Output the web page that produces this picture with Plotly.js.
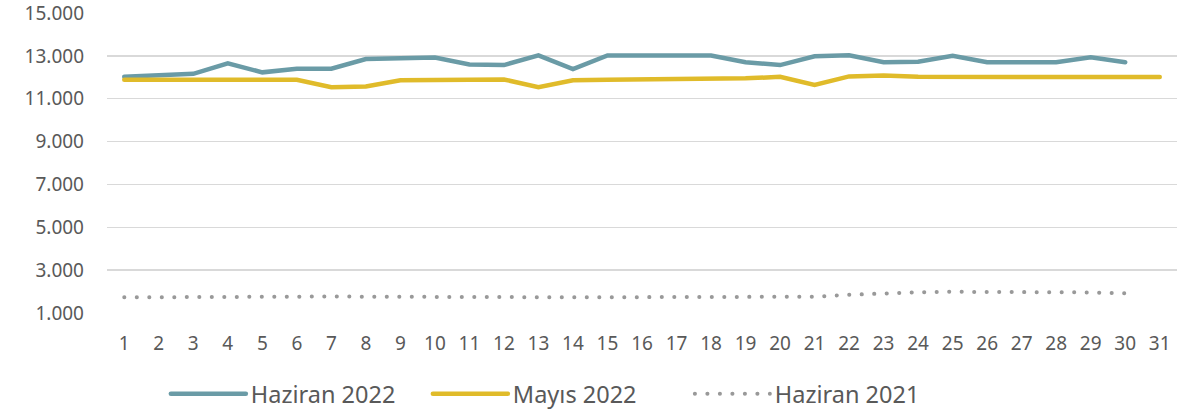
<!DOCTYPE html>
<html>
<head>
<meta charset="utf-8">
<script src="https://cdn.plot.ly/plotly-3.0.1.min.js"></script>
<style>
html,body{margin:0;padding:0;background:#fff;}
#chart{width:1187px;height:414px;}
#chart path.js-line, #chart .legendlines path{stroke-linecap:round !important;}
</style>
</head>
<body>
<div id="chart"></div>
<script>
var days = [1,2,3,4,5,6,7,8,9,10,11,12,13,14,15,16,17,18,19,20,21,22,23,24,25,26,27,28,29,30,31];
var haziran2022 = [12020,12100,12160,12650,12230,12400,12400,12850,12900,12920,12600,12570,13020,12380,13020,13020,13020,13020,12700,12570,12980,13030,12700,12730,13000,12700,12700,12700,12930,12700];
var mayis2022 = [11880,11880,11880,11880,11880,11880,11540,11570,11860,11860,11880,11900,11540,11860,11880,11900,11920,11910,11950,12020,11640,12040,12080,12020,12020,12010,11980,12010,12010,12010,12010];
var haziran2021 = [1730,1740,1750,1760,1780,1780,1770,1760,1750,1750,1750,1740,1730,1730,1730,1740,1740,1740,1740,1750,1760,1850,1920,1970,1990,1990,1990,1980,1960,1920];
var yTicks = [1000,3000,5000,7000,9000,11000,13000,15000];

var fontFam = '"Noto Sans", "DejaVu Sans", sans-serif';
var traces = [
  {x: days.slice(0, haziran2022.length), y: haziran2022, name: 'Haziran 2022', type: 'scatter', mode: 'lines',
   line: {color: '#6a9ba6', width: 4.5}},
  {x: days.slice(0, mayis2022.length), y: mayis2022, name: 'Mayıs 2022', type: 'scatter', mode: 'lines',
   line: {color: '#e0bb2a', width: 4.5}},
  {x: days.slice(0, haziran2021.length), y: haziran2021, name: 'Haziran 2021', type: 'scatter', mode: 'lines',
   line: {color: '#999999', width: 4, dash: '0.1px,12.4px'}}
];
var layout = {
  width: 1187, height: 414,
  margin: {l: 107, r: 10, t: 13, b: 101, autoexpand: false},
  paper_bgcolor: '#ffffff', plot_bgcolor: '#ffffff',
  separators: ',.',
  font: {family: fontFam, color: '#595959', size: 19},
  showlegend: true,
  legend: {orientation: 'h', x: 0.055, xanchor: 'left', y: -0.27, yanchor: 'middle',
           font: {size: 23.5, color: '#595959'}, itemwidth: 75, entrywidth: 172, entrywidthmode: 'pixels',
           traceorder: 'normal'},
  xaxis: {range: [0.5, 31.5], tickmode: 'array', tickvals: days, ticktext: days.map(String),
          showgrid: false, zeroline: false, showline: false, ticks: '', ticklabelstandoff: 17, tickfont: {size: 19}},
  yaxis: {range: [1000, 15000], tickmode: 'array', tickvals: yTicks, tickformat: ',d',
          showgrid: true, gridcolor: '#d9d9d9', gridwidth: 1.5, zeroline: false, showline: false,
          ticks: '', ticklabelstandoff: 22, ticklabeloverflow: 'allow', tickfont: {size: 19}}
};
Plotly.newPlot('chart', traces, layout, {staticPlot: true, displayModeBar: false});
</script>
</body>
</html>
